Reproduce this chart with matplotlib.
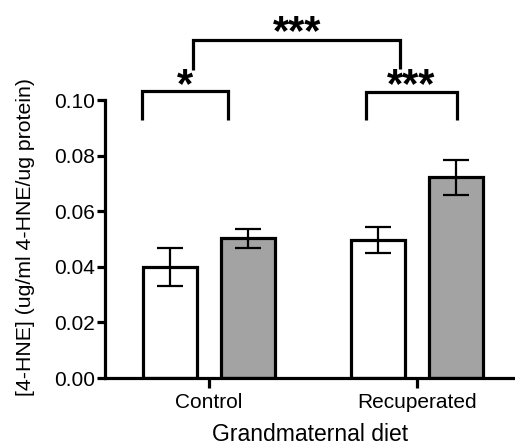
import numpy as np
import matplotlib
matplotlib.use("Agg")
import matplotlib.pyplot as plt

plt.rcParams['font.family'] = ['Liberation Sans', 'DejaVu Sans']

# Данные
groups = ['Control', 'Recuperated']
white_means = [0.0400, 0.0497]
white_sem = [0.0068, 0.0047]
gray_means = [0.0502, 0.0722]
gray_sem = [0.0035, 0.0062]

x = np.arange(len(groups))
w = 0.26
off = 0.1875

fig = plt.figure(figsize=(5.15, 4.48), dpi=100)
ax = fig.add_axes([105 / 515, 1 - 378 / 448, 1 - 105 / 515, 378 / 448])

lw = 2.3
ax.bar(x - off, white_means, w, color='white', edgecolor='black', linewidth=lw, zorder=2)
ax.bar(x + off, gray_means, w, color='#a3a3a3', edgecolor='black', linewidth=lw, zorder=2)
ax.errorbar(x - off, white_means, yerr=white_sem, fmt='none', ecolor='black',
            elinewidth=1.6, capsize=9.5, capthick=1.6, zorder=3)
ax.errorbar(x + off, gray_means, yerr=gray_sem, fmt='none', ecolor='black',
            elinewidth=1.6, capsize=9.5, capthick=1.6, zorder=3)

# Скобки значимости
def bracket(x1, x2, y_low_l, y_low_r, y_top, label, tx, ty):
    ax.plot([x1, x1, x2, x2], [y_low_l, y_top, y_top, y_low_r], color='black',
            lw=lw, solid_capstyle='butt', solid_joinstyle='miter', clip_on=False)
    ax.text(tx, ty, label, ha='center', va='center', fontsize=30, fontweight='bold')

bracket(-0.324, 0.093, 0.0928, 0.0928, 0.1033, '*', -0.115, 0.1050)
bracket(0.755, 1.19, 0.0928, 0.0928, 0.1030, '***', 0.972, 0.1050)
bracket(-0.075, 0.918, 0.1108, 0.1110, 0.1216, '***', 0.425, 0.1242)

ax.set_xlim(-0.5, 1.471)
ax.set_ylim(0, 0.136)
ax.spines['top'].set_visible(False)
ax.spines['right'].set_visible(False)
ax.spines['left'].set_bounds(0, 0.10)
ax.spines['left'].set_linewidth(lw)
ax.spines['bottom'].set_linewidth(lw)

ax.set_yticks([0, 0.02, 0.04, 0.06, 0.08, 0.10])
ax.set_yticklabels(['0.00', '0.02', '0.04', '0.06', '0.08', '0.10'])
ax.set_xticks(x)
ax.set_xticklabels(groups)
ax.tick_params(axis='y', length=6, width=lw, labelsize=15, pad=1)
ax.tick_params(axis='x', length=7, width=lw, labelsize=15, pad=4)

ax.set_ylabel('[4-HNE] (ug/ml 4-HNE/ug protein)', fontsize=15.3)
ax.yaxis.set_label_coords(-0.171, 0.372)
ax.set_xlabel('Grandmaternal diet', fontsize=16.5, labelpad=8)

fig.savefig('out.png', dpi=100)
